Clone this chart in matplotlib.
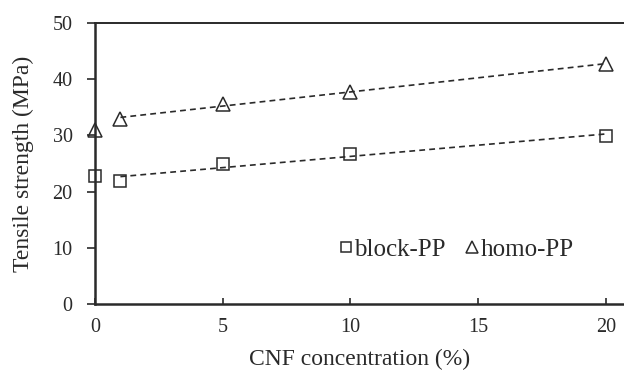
import numpy as np
import matplotlib
matplotlib.use("Agg")
import matplotlib.pyplot as plt

plt.rcParams["font.family"] = ["Liberation Serif", "DejaVu Serif"]

# data
cnf = [0, 1, 5, 10, 20]
block_pp = [22.8, 21.9, 24.9, 26.7, 29.9]
homo_pp = [31.0, 32.9, 35.6, 37.7, 42.7]

fig = plt.figure(figsize=(6.24, 3.71), dpi=100)
ax = fig.add_axes([0.152, 0.181, 0.848, 0.757])

ink = "#2a2a2a"

# trend lines through the CNF-filled samples (1-20 %)
x_fit = np.array(cnf[1:])
for ys in (block_pp, homo_pp):
    k, b = np.polyfit(x_fit, ys[1:], 1)
    ax.plot(x_fit[[0, -1]], k * x_fit[[0, -1]] + b, ls=(0, (3.5, 2.5)), color=ink, lw=1.2)

ax.plot(cnf, block_pp, ls="none", marker="s", ms=9, mfc="none", mec=ink, mew=1.1,
        label="block-PP", clip_on=False)
ax.plot(cnf, homo_pp, ls="none", marker="^", ms=10, mfc="none", mec=ink, mew=1.1,
        label="homo-PP", clip_on=False)

ax.set_xlim(0, 20.7)
ax.set_ylim(0, 50)
ax.set_xticks([0, 5, 10, 15, 20])
ax.set_yticks([0, 10, 20, 30, 40, 50])

ax.spines["right"].set_visible(False)
for s in ("left", "bottom"):
    ax.spines[s].set_linewidth(1.8)
    ax.spines[s].set_color(ink)
ax.spines["top"].set_linewidth(1.4)
ax.spines["top"].set_color(ink)

ax.tick_params(axis="x", direction="in", length=4, width=1.2, colors=ink, labelsize=14.5, pad=10)
ax.tick_params(axis="y", direction="out", length=6, width=1.2, colors=ink, labelsize=14.5, pad=10)

ax.set_xlabel("CNF concentration (%)", fontsize=17, color=ink, labelpad=9)
ax.set_ylabel("Tensile strength (MPa)", fontsize=17, color=ink, labelpad=13)

leg = ax.legend(loc="center left", bbox_to_anchor=(0.462, 0.192), ncol=2, frameon=False,
                fontsize=18, handlelength=0.5, handletextpad=0.1, columnspacing=0.8,
                markerscale=0.85, borderpad=0, borderaxespad=0)
for t in leg.get_texts():
    t.set_color(ink)

fig.savefig("out.png", dpi=100)
